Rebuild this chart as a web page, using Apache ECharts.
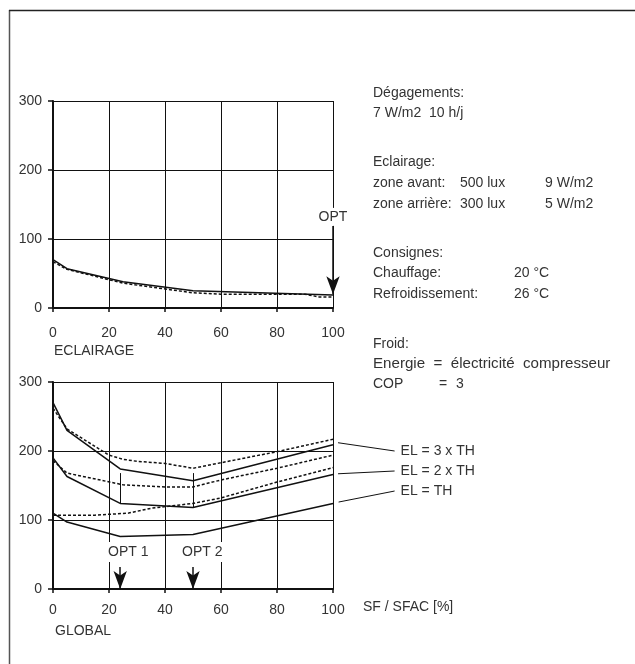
<!DOCTYPE html>
<html>
<head>
<meta charset="utf-8">
<script src="https://cdn.jsdelivr.net/npm/echarts@6/dist/echarts.min.js"></script>
<style>
  html, body { margin: 0; padding: 0; background: #fff; }
  #chart { width: 635px; height: 664px; }
</style>
</head>
<body>
<div id="chart"></div>
<script>
// ECLAIRAGE (top chart)
const eclSolid = [[0, 70], [5, 57], [25, 38], [50, 25], [100, 19]];
const eclDashed = [[0, 67], [5, 56], [25, 36], [50, 22], [60, 20], [90, 20], [95, 16], [100, 16]];

// GLOBAL (bottom chart)
const el3Solid = [[0, 270], [5, 230], [24, 174], [50, 157], [100, 209]];
const el3Dashed = [[0, 262], [5, 232], [20, 194], [25, 188], [30, 185], [40, 182], [50, 175], [60, 183], [80, 199], [100, 217]];
const el2Solid = [[0, 190], [5, 163], [24, 124], [50, 118], [100, 166]];
const el2Dashed = [[0, 186], [5, 168], [25, 151], [40, 148], [50, 148], [60, 158], [80, 175], [100, 194]];
const el1Solid = [[0, 110], [5, 97], [24, 76], [50, 79], [100, 124]];
const el1Dashed = [[0, 107], [15, 107], [27, 110], [35, 117], [50, 124], [60, 132], [80, 155], [100, 176]];

// leader lines to the curve labels, in data units of the bottom chart: [from, to]
const leaders = [
  [[101.8, 212], [122, 200]],
  [[101.8, 167], [122, 171]],
  [[102, 126], [122, 142]]
];
const leaderLabels = ['EL = 3 x TH', 'EL = 2 x TH', 'EL = TH'];

// optimum markers
const optTop = { x: 100, from: 119, to: 20, text: 'OPT' };
const optBottom = [
  { x: 24, from: 32, to: 0, text: 'OPT 1', guideTop: 168, guideBottom: 124 },
  { x: 50, from: 32, to: 0, text: 'OPT 2', guideTop: 168, guideBottom: 118 }
];

// notes on the right: [y, [[x, text, stretch], ...]]
const noteLines = [
  [93, [[373, 'Dégagements:']]],
  [113, [[373, '7 W/m2  10 h/j']]],
  [162, [[373, 'Eclairage:']]],
  [183, [[373, 'zone avant:'], [460, '500 lux'], [545, '9 W/m2']]],
  [204, [[373, 'zone arrière:'], [460, '300 lux'], [545, '5 W/m2']]],
  [253, [[373, 'Consignes:']]],
  [273, [[373, 'Chauffage:'], [514, '20 °C']]],
  [294, [[373, 'Refroidissement:'], [514, '26 °C']]],
  [344, [[373, 'Froid:']]],
  [364, [[373, 'Energie  =  électricité  compresseur', 1.08]]],
  [384, [[373, 'COP'], [439, '='], [456, '3']]]
];

const FONT = 'Liberation Sans';
const FONTCSS = '14px "Liberation Sans"';
const TXT = '#333';
const INK = '#111';

let chart = echarts.init(document.getElementById('chart'));

function xAxisOf(gridIndex, labelMargin) {
  return {
    type: 'value', gridIndex: gridIndex, min: 0, max: 100, interval: 20,
    axisLine: { lineStyle: { color: INK, width: 2 } },
    axisTick: { show: true, length: 4, lineStyle: { color: INK, width: 1.5 } },
    axisLabel: { margin: labelMargin, color: TXT, fontFamily: FONT, fontSize: 14, showMinLabel: true, showMaxLabel: true },
    splitLine: { show: true, lineStyle: { color: INK, width: 1 } }
  };
}
function yAxisOf(gridIndex) {
  return {
    type: 'value', gridIndex: gridIndex, min: 0, max: 300, interval: 100,
    axisLine: { show: true, lineStyle: { color: INK, width: 2 } },
    axisTick: { show: true, length: 5, lineStyle: { color: INK, width: 1.5 } },
    axisLabel: { margin: 11, color: TXT, fontFamily: FONT, fontSize: 14 },
    splitLine: { show: true, lineStyle: { color: INK, width: 1 } }
  };
}
function curve(data, dashed, xi, yi) {
  return {
    type: 'line', data: data, xAxisIndex: xi, yAxisIndex: yi,
    symbol: 'none', animation: false, z: 3,
    lineStyle: { color: INK, width: 1.5, type: dashed ? [3, 2] : 'solid' }
  };
}
function arrowLine(o) {
  return [{ coord: [o.x, o.from] }, { coord: [o.x, o.to] }];
}

let series = [
  curve(eclSolid, false, 0, 0),
  curve(eclDashed, true, 0, 0),
  curve(el3Solid, false, 1, 1),
  curve(el3Dashed, true, 1, 1),
  curve(el2Solid, false, 1, 1),
  curve(el2Dashed, true, 1, 1),
  curve(el1Solid, false, 1, 1),
  curve(el1Dashed, true, 1, 1)
];

// top optimum arrow
series.push({
  type: 'line', data: [], xAxisIndex: 0, yAxisIndex: 0, animation: false,
  markLine: {
    silent: true, animation: false,
    symbol: ['none', 'arrow'], symbolSize: [10, 18],
    lineStyle: { color: INK, width: 1.5, type: 'solid' },
    label: {
      show: true, position: 'start', formatter: optTop.text, distance: 0,
      color: TXT, fontFamily: FONT, fontSize: 14, backgroundColor: '#fff', padding: [2, 1]
    },
    data: [arrowLine(optTop)]
  }
});

// bottom optimum arrows and guides
series.push({
  type: 'line', data: [], xAxisIndex: 1, yAxisIndex: 1, animation: false,
  markLine: {
    silent: true, animation: false,
    symbol: ['none', 'arrow'], symbolSize: [10, 18],
    lineStyle: { color: INK, width: 1.5, type: 'solid' },
    label: { show: false },
    data: optBottom.map(arrowLine).concat(optBottom.map(function (o) {
      return [
        { coord: [o.x, o.guideTop], symbol: 'none', lineStyle: { width: 1 } },
        { coord: [o.x, o.guideBottom], symbol: 'none' }
      ];
    }))
  }
});

let option = {
  backgroundColor: '#fff',
  animation: false,
  grid: [
    { left: 53, top: 101, width: 280, height: 207 },
    { left: 53, top: 382, width: 280, height: 207 }
  ],
  xAxis: [xAxisOf(0, 18), xAxisOf(1, 14)],
  yAxis: [yAxisOf(0), yAxisOf(1)],
  series: series
};

option && chart.setOption(option);

// texts and leader lines (leaders go through the bottom chart's scales)
let graphic = [
  { type: 'line', shape: { x1: 9.5, y1: 10, x2: 9.5, y2: 664 }, style: { stroke: '#555', lineWidth: 1.5 } },
  { type: 'line', shape: { x1: 9, y1: 10.5, x2: 635, y2: 10.5 }, style: { stroke: '#222', lineWidth: 1.5 } },
  { type: 'text', x: 54, y: 351, style: { text: 'ECLAIRAGE', fill: TXT, font: FONTCSS, verticalAlign: 'middle' } },
  { type: 'text', x: 55, y: 631, style: { text: 'GLOBAL', fill: TXT, font: FONTCSS, verticalAlign: 'middle' } },
  { type: 'text', x: 363, y: 607, style: { text: 'SF / SFAC [%]', fill: TXT, font: FONTCSS, verticalAlign: 'middle' } }
];
leaders.forEach(function (l, i) {
  let a = chart.convertToPixel({ gridIndex: 1 }, l[0]);
  let b = chart.convertToPixel({ gridIndex: 1 }, l[1]);
  graphic.push({
    type: 'line', shape: { x1: a[0], y1: a[1], x2: b[0], y2: b[1] },
    style: { stroke: INK, lineWidth: 1 }
  });
  graphic.push({
    type: 'text', x: b[0] + 6, y: b[1],
    style: { text: leaderLabels[i], fill: TXT, font: FONTCSS, verticalAlign: 'middle' }
  });
});
optBottom.forEach(function (o, i) {
  graphic.push({
    type: 'text', x: [107, 181][i], y: 552, z: 10,
    style: { text: o.text, fill: TXT, font: FONTCSS, verticalAlign: 'middle', backgroundColor: '#fff', padding: [3, 1] }
  });
});
noteLines.forEach(function (line) {
  line[1].forEach(function (piece) {
    graphic.push({
      type: 'text', x: piece[0], y: line[0], scaleX: piece[2] || 1,
      style: { text: piece[1], fill: TXT, font: FONTCSS, verticalAlign: 'middle' }
    });
  });
});

chart.setOption({ graphic: graphic });
</script>
</body>
</html>
